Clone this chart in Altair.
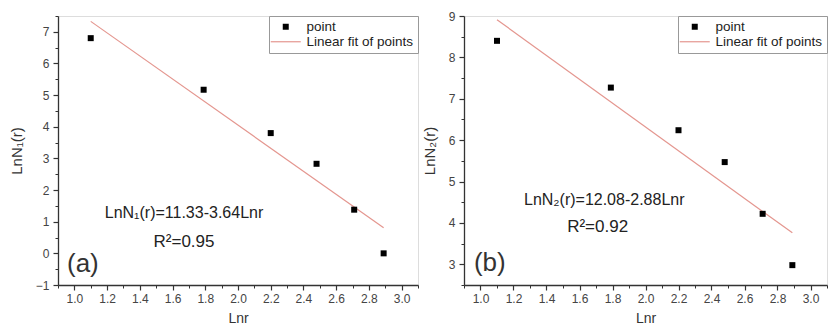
import altair as alt
import pandas as pd

# ---- data ----
lnr = [1.10, 1.79, 2.20, 2.48, 2.71, 2.89]
lnN1 = [6.80, 5.17, 3.80, 2.83, 1.38, 0.00]
lnN2 = [8.40, 7.27, 6.24, 5.47, 4.22, 2.98]

fit_x = [1.10, 2.89]
fit1 = [7.33, 0.81]
fit2 = [8.91, 3.76]

x_major = [1.0, 1.2, 1.4, 1.6, 1.8, 2.0, 2.2, 2.4, 2.6, 2.8, 3.0]
x_minor = [0.9, 1.1, 1.3, 1.5, 1.7, 1.9, 2.1, 2.3, 2.5, 2.7, 2.9, 3.1]
y1_major = [-1, 0, 1, 2, 3, 4, 5, 6, 7]
y1_minor = [-0.5, 0.5, 1.5, 2.5, 3.5, 4.5, 5.5, 6.5, 7.5]
y2_major = [3, 4, 5, 6, 7, 8, 9]
y2_minor = [2.5, 3.5, 4.5, 5.5, 6.5, 7.5, 8.5]

series_names = ["point", "Linear fit of points"]
eq_texts = ["LnN\u2081(r)=11.33-3.64Lnr", "LnN\u2082(r)=12.08-2.88Lnr"]
r2_texts = ["R\u00b2=0.95", "R\u00b2=0.92"]
tags = ["(a)", "(b)"]
y_titles = ["LnN\u2081(r)", "LnN\u2082(r)"]

FONT = "Liberation Sans"
LINE_COLOR = "#e4968f"
AXIS_COLOR = "#333333"


def panel(yv, fv, ydom, ymaj, ymin, ytitle, eq, r2, tag, eqpos, r2pos, tagpos, width):
    xs = alt.Scale(domain=[0.9, 3.1], nice=False, zero=False)
    ys = alt.Scale(domain=ydom, nice=False, zero=False)
    cs = alt.Scale(domain=series_names, range=["black", LINE_COLOR])
    ss = alt.Scale(domain=series_names,
                   range=["square", "M-5,-0.2L5,-0.2L5,0.2L-5,0.2Z"])
    leg = alt.Legend(title=None, orient="top-right", offset=0,
                     strokeColor="#999999", fillColor="white", padding=4,
                     labelFont=FONT, labelFontSize=13.5, labelColor="#222222",
                     symbolSize=36, symbolOffset=6, labelOffset=14,
                     rowPadding=0, symbolStrokeWidth=0)

    xmaj = alt.Axis(orient="bottom", values=x_major, format=".1f", title="Lnr",
                    grid=False, tickSize=5, tickColor=AXIS_COLOR, tickWidth=1.2,
                    domainColor=AXIS_COLOR, domainWidth=1.3,
                    labelFont=FONT, labelFontSize=12, labelColor="#444444",
                    labelPadding=3, titleFont=FONT, titleFontSize=14,
                    titleFontWeight="normal", titleColor="#333333", titlePadding=7)
    ymajax = alt.Axis(orient="left", values=ymaj, format="d", title=ytitle,
                      grid=False, tickSize=5, tickColor=AXIS_COLOR, tickWidth=1.2,
                      domainColor=AXIS_COLOR, domainWidth=1.3,
                      labelFont=FONT, labelFontSize=12, labelColor="#444444",
                      labelPadding=4, titleFont=FONT, titleFontSize=15,
                      titleFontWeight="normal", titleColor="#333333", titlePadding=11)
    xminax = alt.Axis(orient="bottom", values=x_minor, labels=False, title=None,
                      grid=False, domain=False, tickSize=3, tickColor=AXIS_COLOR,
                      tickWidth=1)
    yminax = alt.Axis(orient="left", values=ymin, labels=False, title=None,
                      grid=False, domain=False, tickSize=3, tickColor=AXIS_COLOR,
                      tickWidth=1)

    pts = pd.DataFrame({"x": lnr, "y": yv, "series": series_names[0]})
    fit = pd.DataFrame({"x": fit_x, "y": fv, "series": series_names[1]})

    points = alt.Chart(pts).mark_point(filled=True, size=36, opacity=1).encode(
        x=alt.X("x:Q", scale=xs, axis=xmaj),
        y=alt.Y("y:Q", scale=ys, axis=ymajax),
        color=alt.Color("series:N", scale=cs, legend=leg),
        shape=alt.Shape("series:N", scale=ss, legend=leg),
    )
    line = alt.Chart(fit).mark_line(strokeWidth=1.2).encode(
        x=alt.X("x:Q", scale=xs, axis=None),
        y=alt.Y("y:Q", scale=ys, axis=None),
        color=alt.Color("series:N", scale=cs, legend=leg),
    )
    minor = alt.Chart(pts).mark_point(opacity=0).encode(
        x=alt.X("x:Q", scale=xs, axis=xminax),
        y=alt.Y("y:Q", scale=ys, axis=yminax),
    )
    ann = pd.DataFrame({
        "x": [eqpos[0], r2pos[0]],
        "y": [eqpos[1], r2pos[1]],
        "t": [eq, r2],
        "s": [16, 17],
    })
    texts = alt.Chart(ann).mark_text(font=FONT, color="#222222",
                                     align="center", baseline="middle").encode(
        x=alt.X("x:Q", scale=xs, axis=None),
        y=alt.Y("y:Q", scale=ys, axis=None),
        text="t:N",
        size=alt.Size("s:Q", scale=None, legend=None),
    )
    tagdf = pd.DataFrame({"x": [tagpos[0]], "y": [tagpos[1]], "t": [tag]})
    tagt = alt.Chart(tagdf).mark_text(font=FONT, fontSize=26, color="#333333",
                                      align="left", baseline="middle").encode(
        x=alt.X("x:Q", scale=xs, axis=None),
        y=alt.Y("y:Q", scale=ys, axis=None),
        text="t:N",
    )
    return alt.layer(minor, line, points, texts, tagt).resolve_axis(
        x="independent", y="independent"
    ).properties(width=width, height=269)


left = panel(lnN1, fit1, [-1, 7.5], y1_major, y1_minor, y_titles[0],
             eq_texts[0], r2_texts[0], tags[0],
             (1.67, 1.26), (1.67, 0.36), (0.955, -0.33), 360)
right = panel(lnN2, fit2, [2.5, 9], y2_major, y2_minor, y_titles[1],
              eq_texts[1], r2_texts[1], tags[1],
              (1.75, 4.55), (1.71, 3.90), (0.96, 3.04), 363)

chart = alt.hconcat(left, right, spacing=2).resolve_scale(
    color="independent", shape="independent"
).properties(
    padding={"left": 8, "top": 9, "right": 0, "bottom": 0}
).configure_view(stroke=None).configure(background="white")

chart.save("out.html", embed_options={"renderer": "svg", "actions": False})
